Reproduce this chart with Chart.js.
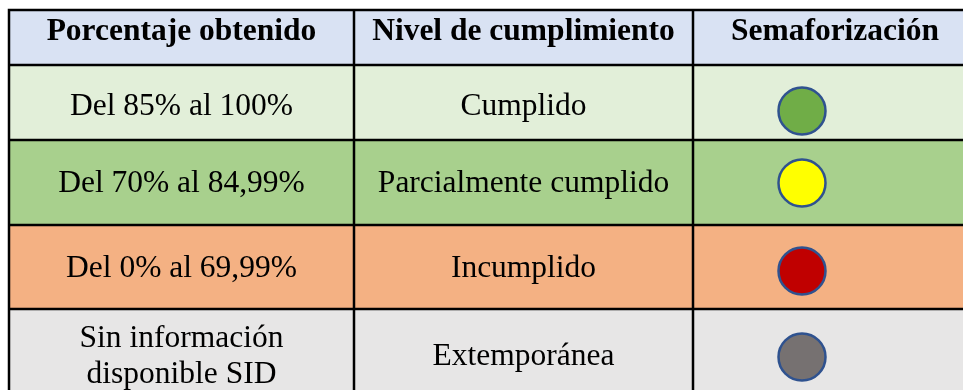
<!DOCTYPE html>
<html>
<head>
<meta charset="utf-8">
<script src="https://cdn.jsdelivr.net/npm/chart.js@4"></script>
<style>
  html, body { margin: 0; padding: 0; background: #fff; }
  canvas { display: block; }
</style>
</head>
<body>
<canvas id="table-chart" width="963" height="390"></canvas>
<script>
// table contents
const headers = ['Porcentaje obtenido', 'Nivel de cumplimiento', 'Semaforización'];
const ranges = ['Del 85% al 100%', 'Del 70% al 84,99%', 'Del 0% al 69,99%', 'Sin información\ndisponible SID'];
const levels = ['Cumplido', 'Parcialmente cumplido', 'Incumplido', 'Extemporánea'];
const lights = ['#70AD47', '#FFFF00', '#C00000', '#767171'];
const rowFills = ['#E2EFD9', '#A8D08D', '#F4B183', '#E7E6E6'];
const headerFill = '#D9E2F3';

// layout, in scale units (the scales run 0..963 and 0..390)
const colEdges = [9, 354, 693, 977];
const rowEdges = [10, 65, 140, 225, 309, 420];
const headerY = 32;
const textY = [107, 184, 269, 357];
const lightX = 802;
const lightY = [111, 183, 271, 357];

const tablePlugin = {
  id: 'tableCells',
  beforeDatasetsDraw(chart) {
    const ctx = chart.ctx;
    const xs = chart.scales.x, ys = chart.scales.y;
    const px = (v) => xs.getPixelForValue(v);
    const py = (v) => ys.getPixelForValue(v);
    const right = px(1000);
    ctx.save();

    // fills
    ctx.fillStyle = headerFill;
    ctx.fillRect(px(colEdges[0]), py(rowEdges[0]), right - px(colEdges[0]), py(rowEdges[1]) - py(rowEdges[0]));
    rowFills.forEach((c, i) => {
      ctx.fillStyle = c;
      ctx.fillRect(px(colEdges[0]), py(rowEdges[i + 1]), right - px(colEdges[0]), py(rowEdges[i + 2]) - py(rowEdges[i + 1]));
    });

    // text
    ctx.fillStyle = '#000';
    ctx.textAlign = 'center';
    ctx.textBaseline = 'middle';
    ctx.font = 'bold 31.5px "Liberation Serif", "Times New Roman", serif';
    headers.forEach((h, j) => {
      ctx.fillText(h, px((colEdges[j] + colEdges[j + 1]) / 2), py(headerY));
    });
    ctx.font = '31.5px "Liberation Serif", "Times New Roman", serif';
    const lineH = 36;
    [ranges, levels].forEach((col, j) => {
      const cx = px((colEdges[j] + colEdges[j + 1]) / 2);
      col.forEach((t, i) => {
        const lines = t.split('\n');
        lines.forEach((ln, k) => {
          const y = textY[i] + (k - (lines.length - 1) / 2) * lineH;
          ctx.fillText(ln, cx, py(y));
        });
      });
    });

    // grid lines
    ctx.strokeStyle = '#000';
    ctx.lineWidth = 2.5;
    ctx.beginPath();
    rowEdges.slice(0, 5).forEach((r) => {
      ctx.moveTo(px(colEdges[0]) - 1.25, py(r));
      ctx.lineTo(right, py(r));
    });
    colEdges.slice(0, 3).forEach((c) => {
      ctx.moveTo(px(c), py(rowEdges[0]));
      ctx.lineTo(px(c), py(rowEdges[5]));
    });
    ctx.stroke();
    ctx.restore();
  }
};

new Chart(document.getElementById('table-chart').getContext('2d'), {
  type: 'scatter',
  data: {
    datasets: [{
      data: levels.map((l, i) => ({ x: lightX, y: lightY[i] })),
      backgroundColor: lights,
      borderColor: '#2F528F',
      borderWidth: 2.5,
      pointRadius: 23.5,
      pointHoverRadius: 23.5,
      clip: false
    }]
  },
  options: {
    responsive: false,
    animation: false,
    layout: { padding: 0, autoPadding: false },
    scales: {
      x: { type: 'linear', min: 0, max: 963, display: false },
      y: { type: 'linear', min: 0, max: 390, reverse: true, display: false }
    },
    plugins: {
      legend: { display: false },
      tooltip: { enabled: false }
    },
    events: []
  },
  plugins: [tablePlugin]
});
</script>
</body>
</html>
